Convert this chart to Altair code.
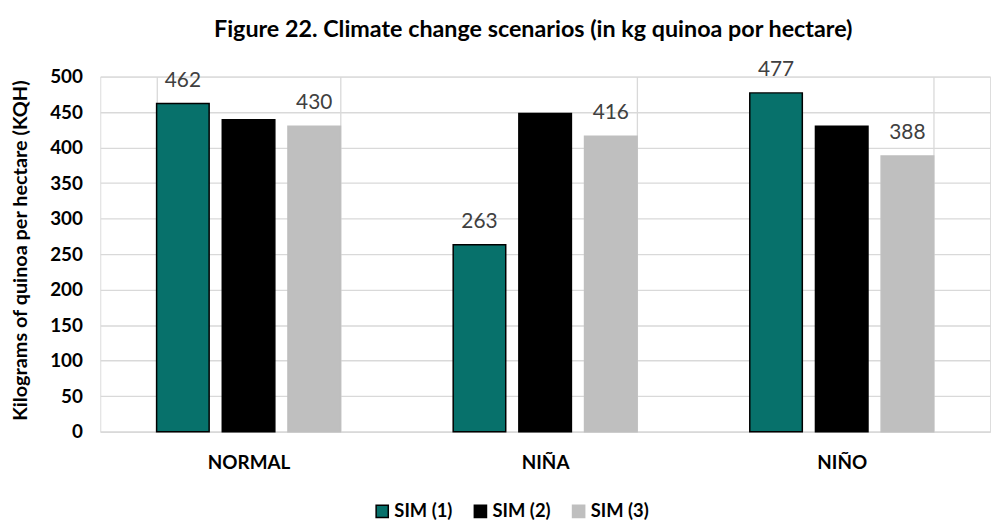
import altair as alt
import pandas as pd

categories = ["NORMAL", "NIÑA", "NIÑO"]
series = ["SIM (1)", "SIM (2)", "SIM (3)"]
sim1 = [462, 263, 477]
sim2 = [439, 448, 430]
sim3 = [430, 416, 388]
colors = ["#07716B", "#000000", "#BFBFBF"]
strokes = ["#000000", "#000000", "#BFBFBF"]
labelled = ["SIM (1)", "SIM (3)"]
y_ticks = list(range(0, 501, 50))

rows = []
for s, vals in zip(series, [sim1, sim2, sim3]):
    for c, v in zip(categories, vals):
        rows.append({"category": c, "series": s, "value": v})
df = pd.DataFrame(rows)

FONT = "Lato"

x_enc = alt.X(
    "category:N",
    sort=categories,
    scale=alt.Scale(paddingInner=0.38, paddingOuter=0.19),
    axis=alt.Axis(
        title=None,
        labelAngle=0,
        labelFont=FONT,
        labelFontWeight="bold",
        labelFontSize=19,
        labelColor="#000000",
        labelPadding=22,
        tickBand="extent",
        ticks=False,
        grid=True,
        gridColor="#D9D9D9",
        gridWidth=1.3,
        domainColor="#D9D9D9",
        domainWidth=1.5,
    ),
)
xoff_enc = alt.XOffset(
    "series:N", sort=series, scale=alt.Scale(paddingInner=0.2, paddingOuter=0)
)
y_enc = alt.Y(
    "value:Q",
    scale=alt.Scale(domain=[0, 500], nice=False),
    axis=alt.Axis(
        values=y_ticks,
        tickCount=30,
        labelOverlap=False,
        title="Kilograms of quinoa per hectare (KQH)",
        titleFont=FONT,
        titleFontWeight="bold",
        titleFontSize=20,
        titleColor="#000000",
        titleAngle=270,
        titleX=-80,
        titleY=175,
        titleAlign="center",
        titleBaseline="middle",
        labelFont=FONT,
        labelFontWeight="bold",
        labelFontSize=19,
        labelColor="#000000",
        labelPadding=18,
        ticks=False,
        domain=False,
        grid=True,
        gridColor="#D9D9D9",
        gridWidth=1.3,
    ),
)

bars = alt.Chart(df).mark_bar(strokeWidth=1.5).encode(
    x=x_enc,
    xOffset=xoff_enc,
    y=y_enc,
    color=alt.Color(
        "series:N",
        sort=series,
        scale=alt.Scale(domain=series, range=colors),
        legend=alt.Legend(
            title=None,
            orient="none",
            direction="horizontal",
            legendX=275,
            legendY=429,
            symbolType="square",
            symbolSize=150,
            symbolStrokeWidth=1.5,
            labelFont=FONT,
            labelFontWeight="bold",
            labelFontSize=18.5,
            labelColor="#000000",
            labelOffset=3,
            columnPadding=19,
        ),
    ),
    stroke=alt.Stroke(
        "series:N",
        sort=series,
        scale=alt.Scale(domain=series, range=strokes),
        legend=alt.Legend(title=None),
    ),
)

labels = (
    alt.Chart(df)
    .transform_filter(alt.FieldOneOfPredicate(field="series", oneOf=labelled))
    .mark_text(font=FONT, fontSize=21, color="#404040", baseline="alphabetic", dy=-17)
    .encode(x=x_enc, xOffset=xoff_enc, y=y_enc, text="value:Q")
)

chart = (
    alt.layer(bars, labels)
    .properties(
        width=897,
        height=358,
        title=alt.TitleParams(
            "Figure 22. Climate change scenarios (in kg quinoa por hectare)",
            font=FONT,
            fontSize=23.5,
            fontWeight="bold",
            color="#000000",
            anchor="middle",
            dx=-12,
            offset=18,
        ),
        autosize=alt.AutoSizeParams(type="none"),
        padding={"left": 93, "top": 67, "right": 2, "bottom": 92},
    )
    .configure_view(stroke=None)
    .configure(background="#FFFFFF")
)

chart.save("out.html", embed_options={"renderer": "svg", "actions": False})
